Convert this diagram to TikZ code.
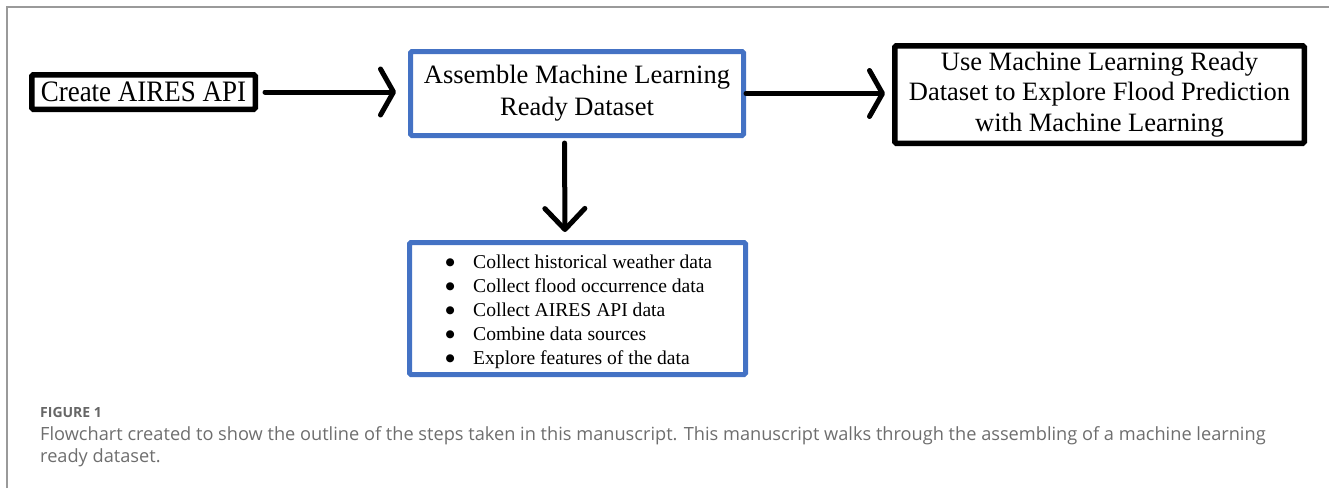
\documentclass[tikz,border=0pt]{standalone}
\usepackage{graphicx}
\usepackage{fontspec}
\setmainfont{Liberation Serif}
\newfontfamily\capfont{Open Sans}
\newfontfamily\symfont{DejaVu Sans}
\usetikzlibrary{arrows.meta}
\definecolor{boxblue}{HTML}{4472C4}
\definecolor{capgray}{HTML}{6E6E6E}
\definecolor{figgray}{HTML}{666666}
\definecolor{framegray}{HTML}{9A9A9A}
\newcommand{\bigbul}{\makebox[8pt]{\raisebox{2.2pt}{\symfont\fontsize{10.5}{12}\selectfont ●}}}
\begin{document}
\begin{tikzpicture}[x=1pt,y=-1pt,
  blackbox/.style={draw=black, line width=5.5pt, rounded corners=1.5pt, inner sep=0pt, align=center},
  bluebox/.style={draw=boxblue, line width=5pt, rounded corners=1.5pt, inner sep=0pt},
  flow/.style={line width=5pt, line cap=round, line join=round},
  hbarb/.style={-{Straight Barb[length=13pt,width=46pt,round]}},
  vbarb/.style={-{Straight Barb[length=21pt,width=40pt,round]}},
  captext/.style={anchor=base west, inner sep=0pt, text=capgray, font=\capfont\fontsize{18.2}{22}\selectfont},
  ]
\useasboundingbox (0,0) rectangle (1329,488);
\draw[framegray, line width=1.5pt] (7,488) -- (7,7) -- (1329,7);

\node[blackbox, minimum width=223.5pt, minimum height=34.5pt, font=\fontsize{27}{30}\selectfont] (create) at (143.5,92)
  {\scalebox{1}[1.1]{Create AIRES API}};
\node[bluebox, align=center, minimum width=333pt, minimum height=84pt, font=\fontsize{26.5}{32}\selectfont] (assemble) at (577,93.5)
  {Assemble Machine Learning\\Ready Dataset};
\node[blackbox, minimum width=409.5pt, minimum height=97.5pt, font=\fontsize{26.5}{30.5}\selectfont] (use) at (1099.5,94.5)
  {Use Machine Learning Ready\\Dataset to Explore Flood Prediction\\with Machine Learning};
\node[bluebox, minimum width=336pt, minimum height=132pt] (bullets) at (577.5,308.5) {};
\node[anchor=base west, inner sep=0pt, font=\fontsize{19.6}{24}\selectfont] (list) at (446,268)
  {\begin{tabular}[t]{@{}l@{\hspace{19pt}}l@{}}
  \bigbul & Collect historical weather data\\
  \bigbul & Collect flood occurrence data\\
  \bigbul & Collect AIRES API data\\
  \bigbul & Combine data sources\\
  \bigbul & Explore features of the data
  \end{tabular}};

\draw[flow, hbarb, shorten <=7pt, shorten >=12pt] (create.east) -- (create.east -| assemble.west);
\draw[flow, hbarb, shorten >=7pt] (assemble.east) -- (assemble.east -| use.west);
\draw[flow, vbarb, shorten <=5pt, shorten >=8pt] ([xshift=-12.5pt]assemble.south) -- ([xshift=-12.5pt]bullets.north);

\node[anchor=base west, inner sep=0pt, text=figgray, font=\capfont\bfseries\fontsize{14}{16}\selectfont] (figlabel) at (40,417) {FIGURE 1};
\node[captext] (cap1) at (40,440) {Flowchart created to show the outline of the steps taken in this manuscript. This manuscript walks through the assembling of a machine learning};
\node[captext] (cap2) at (40,462) {ready dataset.};
\end{tikzpicture}
\end{document}
